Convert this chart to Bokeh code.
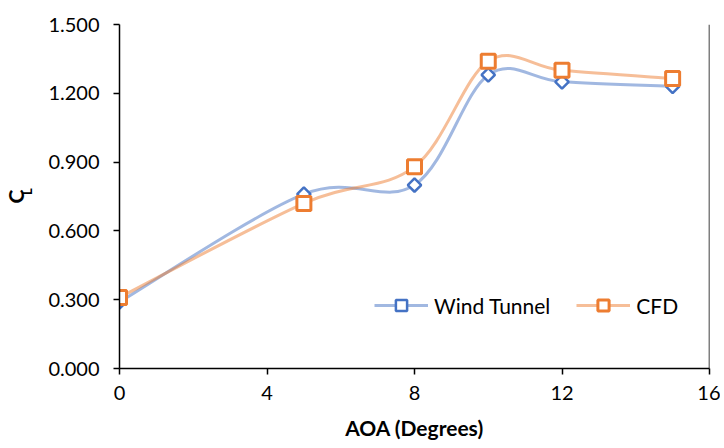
import math
from bokeh.plotting import figure
from bokeh.models import (Range1d, FixedTicker, NumeralTickFormatter, Legend,
                          LegendItem, Span, Label, ColumnDataSource)
from bokeh.embed import file_html
from bokeh.resources import INLINE

# ---- data ----
aoa = [0, 5, 8, 10, 12, 15]
wind_tunnel = [0.29, 0.76, 0.80, 1.28, 1.25, 1.23]
cfd = [0.31, 0.72, 0.88, 1.34, 1.30, 1.265]
x_ticks = [0, 4, 8, 12, 16]
y_ticks = [0.0, 0.3, 0.6, 0.9, 1.2, 1.5]

FONT = "Lato"
WT_COLOR = "#4472C4"
CFD_COLOR = "#ED7D31"
W, H = 720, 444


def smooth_segments(xs, ys):
    """Excel-like smoothed line: cubic Bezier segments (Catmull-Rom control points)."""
    n = len(xs)
    d = dict(x0=[], y0=[], x1=[], y1=[], cx0=[], cy0=[], cx1=[], cy1=[])
    for i in range(n - 1):
        ip = max(i - 1, 0)
        inx = min(i + 2, n - 1)
        d["x0"].append(xs[i]); d["y0"].append(ys[i])
        d["x1"].append(xs[i + 1]); d["y1"].append(ys[i + 1])
        d["cx0"].append(xs[i] + (xs[i + 1] - xs[ip]) / 6.0)
        d["cy0"].append(ys[i] + (ys[i + 1] - ys[ip]) / 6.0)
        d["cx1"].append(xs[i + 1] - (xs[inx] - xs[i]) / 6.0)
        d["cy1"].append(ys[i + 1] - (ys[inx] - ys[i]) / 6.0)
    return ColumnDataSource(d)


p = figure(width=W, height=H, output_backend="svg", toolbar_location=None,
           x_range=Range1d(0, 16), y_range=Range1d(0, 1.5),
           min_border_left=119, min_border_right=W - 709, min_border_top=24,
           min_border_bottom=H - 368)
p.outline_line_color = None
p.xgrid.visible = False
p.ygrid.visible = False
p.background_fill_color = "white"
p.border_fill_color = "white"

# smoothed lines
p.bezier(x0="x0", y0="y0", x1="x1", y1="y1", cx0="cx0", cy0="cy0", cx1="cx1", cy1="cy1",
         source=smooth_segments(aoa, wind_tunnel), line_color=WT_COLOR, line_alpha=0.5,
         line_width=3)
p.bezier(x0="x0", y0="y0", x1="x1", y1="y1", cx0="cx0", cy0="cy0", cx1="cx1", cy1="cy1",
         source=smooth_segments(aoa, cfd), line_color=CFD_COLOR, line_alpha=0.5,
         line_width=3)

# legend line stand-ins (NaN data, only for the legend glyph)
nan = float("nan")
wt_leg_line = p.line(x=[nan, nan], y=[nan, nan], line_color=WT_COLOR, line_alpha=0.5,
                     line_width=3)
cfd_leg_line = p.line(x=[nan, nan], y=[nan, nan], line_color=CFD_COLOR, line_alpha=0.5,
                      line_width=3)

# markers
wt_m = p.scatter(aoa, wind_tunnel, marker="square", angle=math.pi / 4, size=9.5,
                 line_color=WT_COLOR, fill_color="white", line_width=2.5)
cfd_m = p.scatter(aoa, cfd, marker="square", size=14,
                  line_color=CFD_COLOR, fill_color="white", line_width=3)

# right border line
p.add_layout(Span(location=16, dimension="height", line_color="black", line_width=1.5))

# axes
for ax in (p.xaxis[0], p.yaxis[0]):
    ax.axis_line_color = "black"
    ax.axis_line_width = 1.5
    ax.major_tick_line_color = "black"
    ax.major_tick_line_width = 1.5
    ax.major_tick_out = 6
    ax.major_tick_in = 0
    ax.minor_tick_line_color = None
    ax.major_label_text_font = FONT
    ax.major_label_text_font_size = "20px"
    ax.major_label_text_color = "black"

p.xaxis.ticker = FixedTicker(ticks=x_ticks)
p.yaxis.ticker = FixedTicker(ticks=y_ticks)
p.yaxis.formatter = NumeralTickFormatter(format="0.000")
p.xaxis.major_label_standoff = 11
p.yaxis.major_label_standoff = 14

p.xaxis.axis_label = "AOA (Degrees)"
p.xaxis.axis_label_text_font = FONT
p.xaxis.axis_label_text_font_size = "21px"
p.xaxis.axis_label_text_font_style = "bold"
p.xaxis.axis_label_text_color = "black"
p.xaxis.axis_label_standoff = 12

# y axis label: "C" as the axis label, subscript "L" as a label beside it
p.yaxis.axis_label = "C"
p.yaxis.axis_label_text_font = FONT
p.yaxis.axis_label_text_font_size = "21px"
p.yaxis.axis_label_text_font_style = "bold"
p.yaxis.axis_label_text_color = "black"
p.yaxis.axis_label_standoff = 17

p.add_layout(Label(x=-93, y=-167, x_units="screen", y_units="screen", text="L",
                   angle=math.pi / 2, text_align="center", text_baseline="middle",
                   text_font=FONT, text_font_size="13px", text_font_style="bold",
                   text_color="black"), "above")

legend = Legend(items=[
    LegendItem(label="Wind Tunnel", renderers=[wt_leg_line, wt_m]),
    LegendItem(label="CFD", renderers=[cfd_leg_line, cfd_m]),
], location=(255, 49), orientation="horizontal", glyph_width=54, glyph_height=28,
    label_standoff=6, spacing=26, padding=0, margin=0,
    border_line_color=None, background_fill_alpha=0,
    label_text_font=FONT, label_text_font_size="21px", label_text_color="black")
p.add_layout(legend)

open("out.html", "w").write(file_html(p, INLINE))
